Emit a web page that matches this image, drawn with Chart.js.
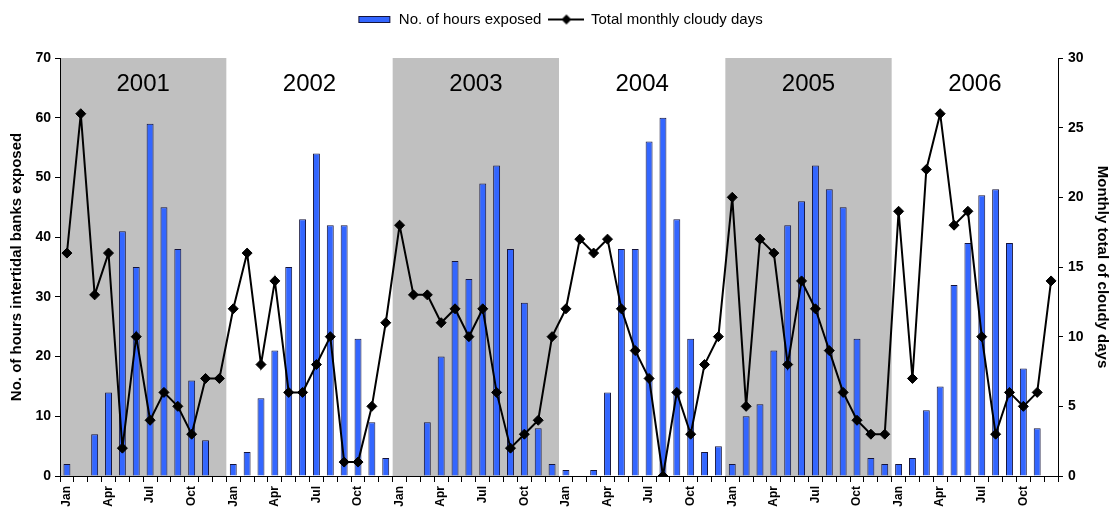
<!DOCTYPE html>
<html>
<head>
<meta charset="utf-8">
<title>Intertidal bank exposure and cloudy days, 2001–2006</title>
<script src="https://cdn.jsdelivr.net/npm/chart.js@4/dist/chart.umd.min.js"></script>
<style>
  html, body { margin: 0; padding: 0; background: #ffffff; }
  #wrap { width: 1120px; height: 511px; }
</style>
</head>
<body>
<div id="wrap"><canvas id="chart" width="1120" height="511"></canvas></div>
<script>
// ---- data -------------------------------------------------------------
const years = [2001, 2002, 2003, 2004, 2005, 2006];
const shadedYears = [2001, 2003, 2005];
const monthNames = ['Jan', 'Feb', 'Mar', 'Apr', 'May', 'Jun', 'Jul', 'Aug', 'Sep', 'Oct', 'Nov', 'Dec'];
const shownMonths = ['Jan', 'Apr', 'Jul', 'Oct'];

// Hours the intertidal banks were exposed, per month
const hours2001 = [2, 0, 7, 14, 41, 35, 59, 45, 38, 16, 6, 0];
const hours2002 = [2, 4, 13, 21, 35, 43, 54, 42, 42, 23, 9, 3];
const hours2003 = [0, 0, 9, 20, 36, 33, 49, 52, 38, 29, 8, 2];
const hours2004 = [1, 0, 1, 14, 38, 38, 56, 60, 43, 23, 4, 5];
const hours2005 = [2, 10, 12, 21, 42, 46, 52, 48, 45, 23, 3, 2];
const hours2006 = [2, 3, 11, 15, 32, 39, 47, 48, 39, 18, 8, 0];

// Total cloudy days, per month
const cloudy2001 = [16, 26, 13, 16, 2, 10, 4, 6, 5, 3, 7, 7];
const cloudy2002 = [12, 16, 8, 14, 6, 6, 8, 10, 1, 1, 5, 11];
const cloudy2003 = [18, 13, 13, 11, 12, 10, 12, 6, 2, 3, 4, 10];
const cloudy2004 = [12, 17, 16, 17, 12, 9, 7, 0, 6, 3, 8, 10];
const cloudy2005 = [20, 5, 17, 16, 8, 14, 12, 9, 6, 4, 3, 3];
const cloudy2006 = [19, 7, 22, 26, 18, 19, 10, 3, 6, 5, 6, 14];

// Axis ranges
const hoursAxis = { min: 0, max: 70, step: 10 };
const cloudyAxis = { min: 0, max: 30, step: 5 };

// ---- assembled series ---------------------------------------------------
const monthLabels = years.flatMap(() => monthNames);
const hoursSeries = [].concat(hours2001, hours2002, hours2003, hours2004, hours2005, hours2006);
const cloudySeries = [].concat(cloudy2001, cloudy2002, cloudy2003, cloudy2004, cloudy2005, cloudy2006);

// ---- styling ------------------------------------------------------------
const FONT = '"Liberation Sans", Arial, Helvetica, sans-serif';
const BAR_FILL = '#3366ff';
const BAR_EDGE = '#14143c';
const BAND_FILL = '#c0c0c0';
const INK = '#000000';
const LEGEND_BAND = 54;

// Legend swatches: a filled bar and a line with a diamond marker
function barSwatch() {
  const c = document.createElement('canvas');
  c.width = 34; c.height = 9;
  const g = c.getContext('2d');
  g.fillStyle = BAR_FILL;
  g.fillRect(1, 1, 32, 7);
  g.strokeStyle = BAR_EDGE;
  g.lineWidth = 1;
  g.strokeRect(1.5, 1.5, 31, 6);
  return c;
}
function lineSwatch() {
  const c = document.createElement('canvas');
  c.width = 36; c.height = 12;
  const g = c.getContext('2d');
  g.strokeStyle = INK;
  g.lineWidth = 2;
  g.beginPath(); g.moveTo(0, 6); g.lineTo(36, 6); g.stroke();
  g.fillStyle = INK;
  g.beginPath(); g.moveTo(18, 1); g.lineTo(23, 6); g.lineTo(18, 11); g.lineTo(13, 6); g.closePath(); g.fill();
  return c;
}

// Grey bands behind alternate years, and the year captions
const yearBands = {
  id: 'yearBands',
  beforeDraw(chart) {
    const { ctx, chartArea: a, scales: { x } } = chart;
    const half = (x.getPixelForValue(1) - x.getPixelForValue(0)) / 2;
    ctx.save();
    years.forEach((yr, k) => {
      const x0 = x.getPixelForValue(k * 12) - half;
      const x1 = x.getPixelForValue(k * 12 + 11) + half;
      if (shadedYears.includes(yr)) {
        ctx.fillStyle = BAND_FILL;
        ctx.fillRect(x0, a.top, x1 - x0, a.bottom - a.top);
      }
      ctx.fillStyle = INK;
      ctx.font = '24px ' + FONT;
      ctx.textAlign = 'center';
      ctx.textBaseline = 'middle';
      ctx.fillText(String(yr), (x0 + x1) / 2, a.top + 26);
    });
    ctx.restore();
  }
};

// Reserve a fixed band at the top for the legend row
const legendBand = {
  id: 'legendBand',
  afterInit(chart) {
    const lg = chart.legend;
    if (!lg) return;
    const fit = lg.fit;
    lg.fit = function () {
      fit.call(this);
      if (this.isHorizontal()) this.height = LEGEND_BAND;
    };
  }
};

new Chart(document.getElementById('chart'), {
  data: {
    labels: monthLabels,
    datasets: [
      {
        type: 'bar',
        label: 'No. of hours exposed',
        data: hoursSeries,
        yAxisID: 'y',
        backgroundColor: BAR_FILL,
        borderColor: BAR_EDGE,
        borderWidth: 1,
        barPercentage: 0.5,
        categoryPercentage: 1.0,
        order: 1
      },
      {
        type: 'line',
        label: 'Total monthly cloudy days',
        data: cloudySeries,
        yAxisID: 'y1',
        borderColor: INK,
        borderWidth: 2,
        tension: 0,
        pointStyle: 'rectRot',
        pointRadius: 5,
        pointBackgroundColor: INK,
        pointBorderColor: INK,
        pointBorderWidth: 1,
        order: 0
      }
    ]
  },
  options: {
    responsive: false,
    animation: false,
    devicePixelRatio: 1,
    layout: { padding: { top: 4, left: 0, right: 0, bottom: 0 } },
    plugins: {
      tooltip: { enabled: false },
      legend: {
        display: true,
        position: 'top',
        align: 'center',
        labels: {
          usePointStyle: true,
          pointStyleWidth: 34,
          padding: 8,
          color: INK,
          font: { family: FONT, size: 15 },
          generateLabels(chart) {
            const ds = chart.data.datasets;
            return [
              { text: ds[0].label, pointStyle: barSwatch(), fillStyle: BAR_FILL, strokeStyle: BAR_EDGE, lineWidth: 0, hidden: false, datasetIndex: 0, fontColor: INK },
              { text: ds[1].label, pointStyle: lineSwatch(), fillStyle: INK, strokeStyle: INK, lineWidth: 0, hidden: false, datasetIndex: 1, fontColor: INK }
            ];
          }
        }
      }
    },
    scales: {
      x: {
        type: 'category',
        offset: true,
        grid: { display: true, drawOnChartArea: false, offset: true, tickLength: 6, color: INK, lineWidth: 1 },
        border: { display: true, color: INK, width: 1 },
        ticks: {
          autoSkip: false,
          minRotation: 90,
          maxRotation: 90,
          padding: 4,
          color: INK,
          font: { family: FONT, size: 12, weight: 'bold' },
          callback(value, index) {
            const m = monthLabels[index];
            return shownMonths.includes(m) ? m : '';
          }
        },
        afterFit(scale) { scale.height = 35; }
      },
      y: {
        position: 'left',
        min: hoursAxis.min,
        max: hoursAxis.max,
        grid: { display: true, drawOnChartArea: false, tickLength: 5, color: INK },
        border: { display: true, color: INK, width: 1 },
        ticks: {
          stepSize: hoursAxis.step,
          padding: 4,
          color: INK,
          font: { family: FONT, size: 14, weight: 'bold' }
        },
        title: {
          display: true,
          text: 'No. of hours intertidal banks exposed',
          color: INK,
          font: { family: FONT, size: 15, weight: 'bold' },
          padding: { top: 8, bottom: 0 }
        },
        afterFit(scale) { scale.width = 60; }
      },
      y1: {
        position: 'right',
        min: cloudyAxis.min,
        max: cloudyAxis.max,
        grid: { display: true, drawOnChartArea: false, tickLength: 5, color: INK },
        border: { display: true, color: INK, width: 1 },
        ticks: {
          stepSize: cloudyAxis.step,
          padding: 5,
          color: INK,
          font: { family: FONT, size: 14, weight: 'bold' }
        },
        title: {
          display: true,
          text: 'Monthly total of cloudy days',
          color: INK,
          font: { family: FONT, size: 15, weight: 'bold' },
          padding: { top: 9, bottom: 0 }
        },
        afterFit(scale) { scale.width = 62; }
      }
    }
  },
  plugins: [yearBands, legendBand]
});
</script>
</body>
</html>
